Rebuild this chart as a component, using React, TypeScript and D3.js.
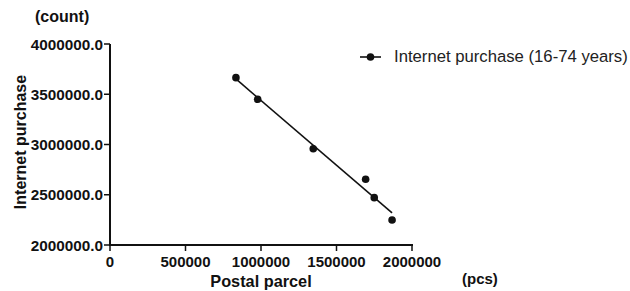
import React from "react";
import * as d3 from "d3";

const postalParcel = [834000, 978000, 1346000, 1693000, 1750000, 1868000];
const internetPurchase = [3665000, 3450000, 2958000, 2654000, 2471000, 2249000];
const xTicks = [0, 500000, 1000000, 1500000, 2000000];
const yTicks = [2000000, 2500000, 3000000, 3500000, 4000000];
const seriesName = "Internet purchase (16-74 years)";

const W = 630;
const H = 291;
const FONT = "'Liberation Sans', Arial, Helvetica, sans-serif";

export default function App() {
  const x = d3.scaleLinear().domain([0, 2000000]).range([110, 412]);
  const y = d3.scaleLinear().domain([2000000, 4000000]).range([245, 44]);

  const n = postalParcel.length;
  const mx = d3.mean(postalParcel) as number;
  const my = d3.mean(internetPurchase) as number;
  let sxy = 0;
  let sxx = 0;
  for (let i = 0; i < n; i++) {
    sxy += (postalParcel[i] - mx) * (internetPurchase[i] - my);
    sxx += (postalParcel[i] - mx) ** 2;
  }
  const slope = sxy / sxx;
  const icpt = my - slope * mx;
  const [x0, x1] = d3.extent(postalParcel) as [number, number];
  const fit: [number, number][] = [
    [x0, icpt + slope * x0],
    [x1, icpt + slope * x1],
  ];
  const line = d3
    .line<[number, number]>()
    .x((d) => x(d[0]))
    .y((d) => y(d[1]));

  const yFmt = d3.format(".1f");
  const xFmt = d3.format("d");
  const ink = "#111";

  return (
    <svg
      width={W}
      height={H}
      style={{ position: "absolute", left: 0, top: 0, background: "#fff" }}
      fontFamily={FONT}
    >
      <rect width={W} height={H} fill="#fff" />
      {/* axes */}
      <line x1={110} x2={110} y1={y(4000000)} y2={y(2000000) + 1} stroke={ink} strokeWidth={2} />
      <line x1={109} x2={x(2000000) + 1} y1={245} y2={245} stroke={ink} strokeWidth={2} />
      {yTicks.map((t) => (
        <g key={"y" + t}>
          <line x1={104} x2={110} y1={y(t)} y2={y(t)} stroke={ink} strokeWidth={1.5} />
          <text
            x={103}
            y={y(t)}
            dy="0.36em"
            textAnchor="end"
            fontSize={15.3}
            fontWeight="bold"
            fill={ink}
          >
            {yFmt(t)}
          </text>
        </g>
      ))}
      {xTicks.map((t) => (
        <g key={"x" + t}>
          <line x1={x(t)} x2={x(t)} y1={245} y2={251} stroke={ink} strokeWidth={1.5} />
          <text x={x(t)} y={267} textAnchor="middle" fontSize={15} fontWeight="bold" fill={ink}>
            {xFmt(t)}
          </text>
        </g>
      ))}
      {/* titles */}
      <text x={35} y={22} fontSize={16} fontWeight="bold" fill={ink}>
        (count)
      </text>
      <text
        transform="translate(26,142) rotate(-90)"
        textAnchor="middle"
        fontSize={16}
        fontWeight="bold"
        fill={ink}
      >
        Internet purchase
      </text>
      <text x={261} y={287} textAnchor="middle" fontSize={16.3} fontWeight="bold" fill={ink}>
        Postal parcel
      </text>
      <text x={462} y={284} fontSize={15} fontWeight="bold" fill={ink}>
        (pcs)
      </text>
      {/* fit line */}
      <path d={line(fit) || ""} fill="none" stroke={ink} strokeWidth={1.6} />
      {/* points */}
      {postalParcel.map((v, i) => (
        <circle key={i} cx={x(v)} cy={y(internetPurchase[i])} r={3.8} fill={ink} />
      ))}
      {/* legend */}
      <line x1={360} x2={381} y1={57} y2={57} stroke={ink} strokeWidth={1.6} />
      <circle cx={370.5} cy={57} r={3.8} fill={ink} />
      <text x={394} y={62} fontSize={16.7} fill="#222">
        {seriesName}
      </text>
    </svg>
  );
}
